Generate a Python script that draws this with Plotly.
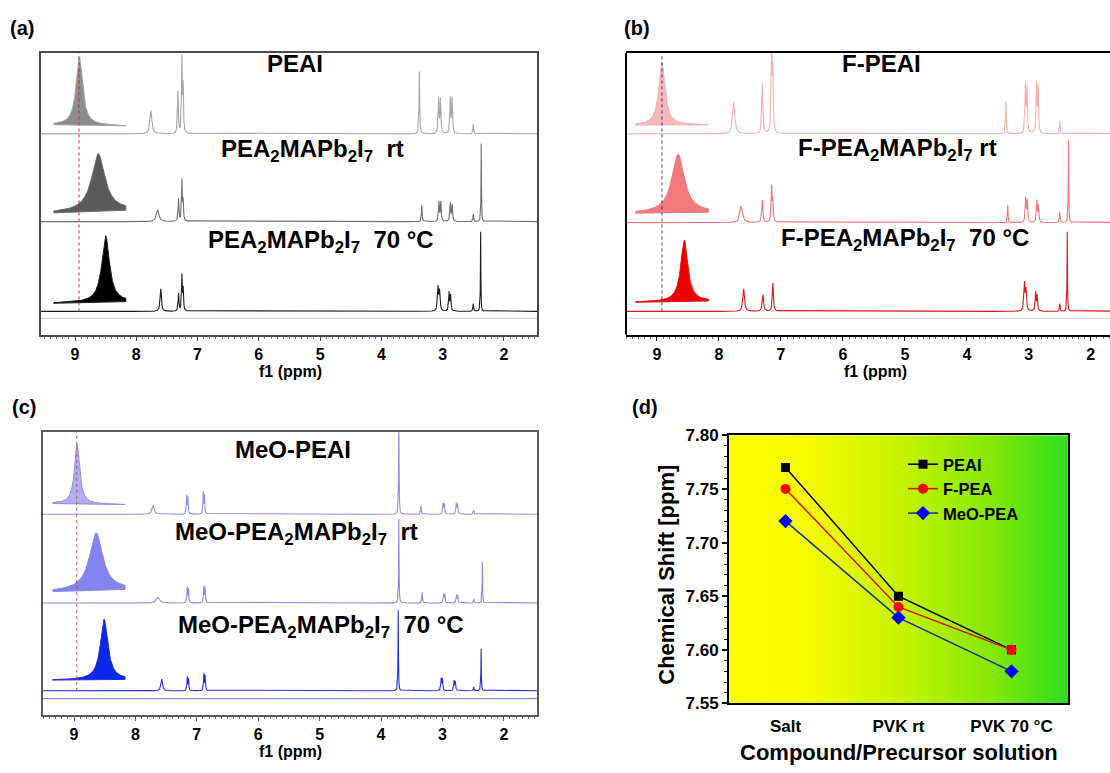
import numpy as np
import plotly.graph_objects as go

# ---------------- DATA ----------------
# Panel (a) PEAI series: peak positions (ppm), intensities, half widths
A_LABELS = ["PEAI",
            "PEA<sub>2</sub>MAPb<sub>2</sub>I<sub>7</sub>\u00a0\u00a0rt",
            "PEA<sub>2</sub>MAPb<sub>2</sub>I<sub>7</sub>\u00a0\u00a070\u00a0°C"]
A1_PPM = [7.76, 7.32, 7.255, 7.235, 3.38, 3.065, 3.035, 2.875, 2.845, 2.50]
A1_INT = [24, 43, 76, 46, 64, 35, 35, 36, 36, 10]
A1_HW = [0.018, 0.008, 0.007, 0.007, 0.006, 0.008, 0.008, 0.008, 0.008, 0.006]
A1_INSET = [8.93, 70, 0.063, 9.3, 8.3]      # centre, amplitude, hwhm, base left, base right
A2_PPM = [7.65, 7.31, 7.255, 7.235, 3.34, 3.06, 3.03, 2.875, 2.845, 2.50, 2.37]
A2_INT = [12, 23, 42, 20, 17, 20, 20, 19, 17, 8, 80]
A2_HW = [0.025, 0.008, 0.007, 0.007, 0.006, 0.008, 0.008, 0.008, 0.008, 0.006, 0.004]
A2_INSET = [8.62, 59, 0.13, 9.0, 11.7]
A3_PPM = [7.60, 7.31, 7.255, 7.235, 3.075, 3.05, 2.895, 2.87, 2.50, 2.38]
A3_INT = [23, 18, 36, 22, 24, 20, 19, 16, 8, 83]
A3_HW = [0.012, 0.008, 0.007, 0.007, 0.01, 0.01, 0.008, 0.008, 0.006, 0.004]
A3_INSET = [8.50, 68, 0.075, 8.3, 10.0]

# Panel (b) F-PEAI series
B_LABELS = ["F-PEAI",
            "F-PEA<sub>2</sub>MAPb<sub>2</sub>I<sub>7</sub>\u00a0rt",
            "F-PEA<sub>2</sub>MAPb<sub>2</sub>I<sub>7</sub>\u00a0\u00a070\u00a0°C"]
B1_PPM = [7.76, 7.30, 7.15, 7.13, 3.37, 3.055, 3.03, 2.875, 2.85, 2.50]
B1_INT = [32, 51, 95, 60, 33, 48, 46, 50, 47, 13]
B1_HW = [0.02, 0.01, 0.008, 0.008, 0.006, 0.008, 0.008, 0.008, 0.008, 0.006]
B1_INSET = [8.92, 64, 0.06, 9.0, 9.3]
B2_PPM = [7.64, 7.30, 7.15, 7.13, 3.34, 3.05, 3.025, 2.87, 2.845, 2.50, 2.36]
B2_INT = [17, 23, 36, 22, 18, 25, 22, 22, 17, 11, 86]
B2_HW = [0.025, 0.01, 0.008, 0.008, 0.006, 0.008, 0.008, 0.008, 0.008, 0.006, 0.004]
B2_INSET = [8.66, 60, 0.12, 9.7, 10.7]
B3_PPM = [7.60, 7.29, 7.13, 3.07, 3.045, 2.89, 2.865, 2.50, 2.38]
B3_INT = [23, 17, 29, 28, 21, 19, 16, 8, 83]
B3_HW = [0.015, 0.012, 0.01, 0.01, 0.01, 0.008, 0.008, 0.006, 0.004]
B3_INSET = [8.56, 63, 0.067, 9.3, 10.7]

# Panel (c) MeO-PEAI series
C_LABELS = ["MeO-PEAI",
            "MeO-PEA<sub>2</sub>MAPb<sub>2</sub>I<sub>7</sub>\u00a0\u00a0rt",
            "MeO-PEA<sub>2</sub>MAPb<sub>2</sub>I<sub>7</sub>\u00a0\u00a070\u00a0°C"]
C1_PPM = [7.71, 7.165, 7.145, 6.895, 6.875, 3.71, 3.35, 2.99, 2.97, 2.775, 2.755, 2.49]
C1_INT = [9, 19, 17, 22, 19, 120, 9, 11, 10, 11, 10, 4]
C1_HW = [0.02, 0.006, 0.006, 0.006, 0.006, 0.004, 0.006, 0.007, 0.007, 0.007, 0.007, 0.006]
C1_INSET = [8.95, 61, 0.05, 11.0, 10.0]
C2_PPM = [7.63, 7.155, 7.135, 6.885, 6.865, 3.71, 3.33, 2.98, 2.96, 2.77, 2.75, 2.49, 2.35]
C2_INT = [6, 16, 14, 17, 15, 87, 11, 9, 8, 8, 7, 4, 42]
C2_HW = [0.03, 0.006, 0.006, 0.006, 0.006, 0.004, 0.006, 0.007, 0.007, 0.007, 0.007, 0.006, 0.004]
C2_INSET = [8.64, 59, 0.13, 11.7, 14.0]
C3_PPM = [7.57, 7.155, 7.135, 6.885, 6.865, 3.72, 3.02, 3.00, 2.81, 2.79, 2.49, 2.37]
C3_INT = [12, 14, 12, 17, 15, 83, 12, 12, 10, 9, 4, 43]
C3_HW = [0.015, 0.006, 0.006, 0.006, 0.006, 0.004, 0.007, 0.007, 0.007, 0.007, 0.006, 0.004]
C3_INSET = [8.51, 62, 0.073, 11.0, 11.7]

# Panel (d)
CATEGORIES = ["Salt", "PVK rt", "PVK 70 °C"]
SERIES_NAMES = ["PEAI", "F-PEA", "MeO-PEA"]
PEAI_SHIFT = [7.77, 7.65, 7.60]
FPEA_SHIFT = [7.75, 7.64, 7.60]
MEOPEA_SHIFT = [7.72, 7.63, 7.58]

# ---------------- LAYOUT HELPERS ----------------
W, H = 1110, 773
FONT = "Liberation Sans, Arial, sans-serif"


def fx(px):
    return px / W


def fy(py):
    return 1 - py / H


def lorentz(grid, centres, ints, hws):
    out = np.zeros_like(grid)
    for c, h, w in zip(centres, ints, hws):
        out += h * w * w / ((grid - c) ** 2 + w * w)
    return out


def text_ann(x, y, text, size, xref="paper", yref="paper", angle=0, xanchor="center"):
    return dict(x=x, y=y, xref=xref, yref=yref, text=text, showarrow=False, textangle=angle,
                xanchor=xanchor, yanchor="middle",
                font=dict(family=FONT, size=size, color="#000"))


GRID = np.linspace(1.4, 9.6, 7000)
INSET_X = np.linspace(9.35, 8.17, 500)

panels = [
    dict(id="", box=(41, 45, 537, 334), xr=[9.555, 1.46], frame="#4a4a4a", fw=1.5, mirror=True,
         base=[206, 116, 24], extra=17, extra_col="#c8c8c8",
         spectra=[(A1_PPM, A1_INT, A1_HW, A1_INSET), (A2_PPM, A2_INT, A2_HW, A2_INSET),
                  (A3_PPM, A3_INT, A3_HW, A3_INSET)],
         lines=["#a6a6a6", "#6e6e6e", "#1c1c1c"], fills=["#8c8c8c", "#5a5a5a", "#000000"],
         vline=8.935, vcol="#c03030", labels=A_LABELS,
         lab_pos=[(5.41, 278), (5.13, 189), (4.99, 96)], f1=(5.48, 372), tag=("(a)", 8, 19)),
    dict(id="2", box=(626, 45, 1110, 334), xr=[9.5, 1.69], frame="#000000", fw=2, mirror=False,
         base=[206, 115, 24], extra=17, extra_col="#c8ccd4",
         spectra=[(B1_PPM, B1_INT, B1_HW, B1_INSET), (B2_PPM, B2_INT, B2_HW, B2_INSET),
                  (B3_PPM, B3_INT, B3_HW, B3_INSET)],
         lines=["#f4b0b0", "#ec7878", "#d81818"], fills=["#f6b8b8", "#f27a7a", "#ee0000"],
         vline=8.92, vcol="#303090", labels=B_LABELS,
         lab_pos=[(5.38, 278), (5.12, 190), (5.0, 98)], f1=(5.47, 372), tag=("(b)", 622, 19)),
    dict(id="3", box=(43, 434, 537, 724), xr=[9.505, 1.46], frame="#5a5a5a", fw=1.5, mirror=True,
         base=[206, 115, 25], extra=17, extra_col="#7070d0",
         spectra=[(C1_PPM, C1_INT, C1_HW, C1_INSET), (C2_PPM, C2_INT, C2_HW, C2_INSET),
                  (C3_PPM, C3_INT, C3_HW, C3_INSET)],
         lines=["#9090e0", "#8888e8", "#2a2ad8"], fills=["#b0b0f0", "#8484f0", "#0a28e8"],
         vline=8.955, vcol="#c05050", labels=C_LABELS,
         lab_pos=[(5.43, 272), (5.37, 186), (4.98, 91)], f1=(5.47, 761), tag=("(c)", 10, 408)),
]

fig = go.Figure()
annotations = []
shapes = []
layout_axes = {}

for p in panels:
    xid, yid = "x" + p["id"], "y" + p["id"]
    x0, y0, x1, y1 = p["box"]
    hbox = y1 - y0
    for k, (ppm, ints, hws, inset) in enumerate(p["spectra"]):
        off = p["base"][k]
        # inset (expanded broad peak)
        c, amp, hw, bl, br = inset
        base = bl + (br - bl) * (INSET_X[0] - INSET_X) / (INSET_X[0] - INSET_X[-1])
        curve = off + base + amp * hw * hw / ((INSET_X - c) ** 2 + hw * hw)
        fig.add_trace(go.Scatter(
            x=np.concatenate([INSET_X, INSET_X[::-1]]),
            y=np.concatenate([curve, (off + base)[::-1]]),
            fill="toself", fillcolor=p["fills"][k], mode="lines",
            line=dict(color=p["lines"][k], width=1), xaxis=xid, yaxis=yid,
            showlegend=False, hoverinfo="skip"))
        # main spectrum
        y = off + lorentz(GRID, ppm, ints, hws)
        fig.add_trace(go.Scatter(
            x=GRID, y=y, mode="lines", line=dict(color=p["lines"][k], width=1.1),
            xaxis=xid, yaxis=yid, showlegend=False, hoverinfo="skip"))
        annotations.append(text_ann(p["lab_pos"][k][0], p["lab_pos"][k][1],
                                    "<b>" + p["labels"][k] + "</b>", 24, xref=xid, yref=yid))
    # extra flat baseline
    fig.add_trace(go.Scatter(
        x=[GRID[0], GRID[-1]], y=[p["extra"], p["extra"]], mode="lines",
        line=dict(color=p["extra_col"], width=1), xaxis=xid, yaxis=yid,
        showlegend=False, hoverinfo="skip"))
    shapes.append(dict(type="line", xref=xid, yref=yid, x0=p["vline"], x1=p["vline"],
                       y0=p["base"][2], y1=hbox, line=dict(color=p["vcol"], width=1, dash="dot")))
    annotations.append(text_ann(p["f1"][0], fy(p["f1"][1]), "<b>f1 (ppm)</b>", 16, xref=xid))
    t, tx, ty = p["tag"]
    annotations.append(text_ann(fx(tx), fy(ty), "<b>" + t + "</b>", 20, xanchor="left"))
    key = p["id"]
    layout_axes["xaxis" + key] = dict(
        domain=[fx(x0), min(1.0, fx(x1))], range=p["xr"], anchor=yid,
        showline=True, linecolor=p["frame"], linewidth=p["fw"], mirror=True,
        ticks="outside", ticklen=4, tickwidth=1.2, tickcolor=p["frame"],
        tickmode="linear", tick0=0, dtick=1,
        minor=dict(ticks="outside", ticklen=2, tickwidth=1, tickcolor="#777", dtick=0.1, tick0=0),
        tickfont=dict(family=FONT, size=16, color="#000", weight="bold"),
        showgrid=False, zeroline=False)
    if p["mirror"]:
        layout_axes["yaxis" + key] = dict(
            domain=[fy(y1), fy(y0)], range=[0, hbox], anchor=xid,
            showline=True, linecolor=p["frame"], linewidth=p["fw"], mirror=True,
            showticklabels=False, ticks="", showgrid=False, zeroline=False)
    else:
        # open-ended panel: left border only, drawn as a shape
        layout_axes["yaxis" + key] = dict(
            domain=[fy(y1), fy(y0)], range=[0, hbox], anchor=xid,
            showline=False, showticklabels=False, ticks="", showgrid=False, zeroline=False)
        shapes.append(dict(type="line", xref="paper", yref="paper", x0=fx(x0), x1=fx(x0),
                           y0=fy(y1), y1=fy(y0), line=dict(color=p["frame"], width=p["fw"])))

# ---------------- Panel (d) ----------------
xpos = list(range(len(CATEGORIES)))
gx = np.linspace(-0.6, 2.6, 80)
fig.add_trace(go.Heatmap(
    x=gx, y=[7.54, 7.81], z=[gx, gx], xaxis="x4", yaxis="y4", zsmooth="best",
    colorscale=[[0, "#ffff00"], [0.25, "#f6fc00"], [0.5, "#c6f400"], [0.75, "#86e806"], [1, "#22dd22"]],
    showscale=False, hoverinfo="skip"))

styles = [("#000000", "#000000", "square", 9), ("#ff0000", "#d81010", "circle", 10),
          ("#0000ff", "#1a3090", "diamond", 11)]
for name, vals, (mcol, lcol, sym, sz) in zip(SERIES_NAMES, [PEAI_SHIFT, FPEA_SHIFT, MEOPEA_SHIFT], styles):
    fig.add_trace(go.Scatter(
        x=xpos, y=vals, name=name, mode="lines+markers", xaxis="x4", yaxis="y4",
        line=dict(color=lcol, width=1.5), marker=dict(color=mcol, symbol=sym, size=sz)))

layout_axes["xaxis4"] = dict(
    domain=[fx(729), fx(1068)], range=[-0.5, 2.5], anchor="y4",
    tickmode="array", tickvals=xpos, ticktext=CATEGORIES,
    showline=True, linecolor="#000", linewidth=2, mirror=True, ticks="",
    ticklabelstandoff=6,
    tickfont=dict(family=FONT, size=17, color="#000", weight="bold"),
    showgrid=False, zeroline=False)
layout_axes["yaxis4"] = dict(
    domain=[fy(712), fy(437)], range=[7.55, 7.80], anchor="x4",
    tickmode="linear", tick0=7.55, dtick=0.05, tickformat=".2f",
    ticks="outside", ticklen=5, tickwidth=1.5, tickcolor="#000",
    minor=dict(ticks="outside", ticklen=3, tickwidth=1, tickcolor="#000", dtick=0.01),
    showline=True, linecolor="#000", linewidth=2, mirror=True,
    tickfont=dict(family=FONT, size=17, color="#000", weight="bold"),
    showgrid=False, zeroline=False)

annotations.append(text_ann(fx(667), fy(580), "<b>Chemical Shift [ppm]</b>", 22, angle=-90))
annotations.append(text_ann(fx(899), fy(762), "<b>Compound/Precursor solution</b>", 22))
annotations.append(text_ann(fx(630), fy(408), "<b>(d)</b>", 20, xanchor="left"))

fig.update_layout(
    width=W, height=H, margin=dict(l=0, r=0, t=0, b=0),
    paper_bgcolor="#ffffff", plot_bgcolor="rgba(0,0,0,0)",
    showlegend=True,
    legend=dict(x=fx(903), y=fy(449), xanchor="left", yanchor="top",
                bgcolor="rgba(0,0,0,0)", itemwidth=30, tracegroupgap=0,
                font=dict(family=FONT, size=16.5, color="#000", weight="bold")),
    annotations=annotations, shapes=shapes,
    **layout_axes)

fig.write_html("out.html")
